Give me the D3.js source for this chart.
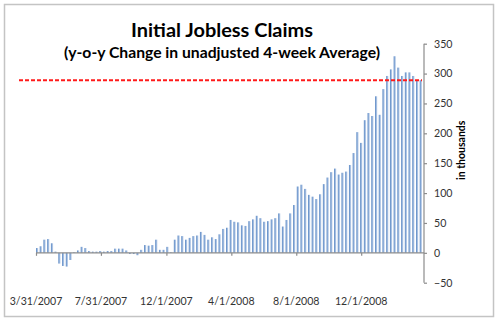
<!DOCTYPE html>
<html><head><meta charset="utf-8">
<script src="https://cdn.jsdelivr.net/npm/d3@7/dist/d3.min.js"></script>
<style>html,body{margin:0;padding:0;background:#fff;}svg{display:block;}</style>
</head><body>
<script>
const titleText = "Initial Jobless Claims";
const subtitleText = "(y-o-y Change in unadjusted 4-week Average)";
const axisTitle = "in thousands";
const firstWeek = "3/31/2007";
const claims = [8,11,22,23,16,2,-18,-22,-23,-12,1,4,10,8,3,2,2,3,2,3,3,7,7,7,4,-2,-2,-4,5,13,12,13,22,5,5,10,1,22,29,28,22,25,28,29,35,30,22,26,23,31,40,42,55,52,51,46,45,53,56,62,58,52,53,56,58,66,44,55,66,80,111,114,107,97,94,90,98,115,126,135,141,131,134,136,147,167,202,184,222,234,229,262,231,274,296,307,329,310,296,302,302,296,289,289];
const xTickLabels = ["3/31/2007","7/31/2007","12/1/2007","4/1/2008","8/1/2008","12/1/2008"];
const xDomainLabels = ["3/31/2007","3/29/2009"];
const yTicks = [-50,0,50,100,150,200,250,300,350];
const yDomain = [-50,350];
const referenceLevel = 289;

const W = 500, H = 323;
const parse = d3.timeParse("%m/%d/%Y");
const start = parse(firstWeek);
const weeks = claims.map((v,i)=>({date:d3.timeDay.offset(start,7*i), value:v}));

const svg = d3.select("body").append("svg").attr("width",W).attr("height",H);
const defs = svg.append("defs");
const grad = defs.append("linearGradient").attr("id","barGrad").attr("x1","0").attr("x2","1").attr("y1","0").attr("y2","0");
grad.append("stop").attr("offset","0").attr("stop-color","#4f80bf");
grad.append("stop").attr("offset","0.4").attr("stop-color","#86a8d6");
grad.append("stop").attr("offset","1").attr("stop-color","#cddbef");
const blur = defs.append("filter").attr("id","blur").attr("x","-5%").attr("y","-200%").attr("width","110%").attr("height","500%");
blur.append("feGaussianBlur").attr("stdDeviation","1.5");

svg.append("rect").attr("x",4.5).attr("y",4.5).attr("width",489).attr("height",312)
  .attr("fill","#fff").attr("stroke","#c4c4c4").attr("stroke-width",1.5);

const x = d3.scaleTime().domain(xDomainLabels.map(parse)).range([36,424]);
const y = d3.scaleLinear().domain(yDomain).range([282.7,43.7]);

const font = "Lato, 'Open Sans', sans-serif";

// bars
const bw = 2.2;
svg.append("g").selectAll("rect").data(weeks).join("rect")
  .attr("x",d=>x(d.date))
  .attr("width",bw)
  .attr("y",d=>Math.min(y(d.value),y(0)))
  .attr("height",d=>Math.abs(y(d.value)-y(0)))
  .attr("fill","url(#barGrad)");

// x axis
const xAxis = svg.append("g").attr("transform",`translate(0,${y(0)})`)
  .call(d3.axisBottom(x).tickValues(xTickLabels.map(parse)).tickSize(3).tickFormat(""));
xAxis.select(".domain").attr("d",`M${x.range()[0]},0H${x.range()[1]}`).attr("stroke","#8c8c8c").attr("stroke-width",1.2);
xAxis.selectAll(".tick line").attr("stroke","#8c8c8c").attr("stroke-width",1.2);

svg.append("g").selectAll("text").data(xTickLabels).join("text")
  .attr("x",d=>x(parse(d))).attr("y",304.5)
  .attr("text-anchor","middle")
  .attr("font-family",font).attr("font-size",10.6).attr("fill","#333")
  .text(d=>d);

// y axis (right)
const yAxis = svg.append("g").attr("transform",`translate(424,0)`)
  .call(d3.axisRight(y).tickValues(yTicks).tickSize(3).tickPadding(7).tickFormat(d3.format("d")));
yAxis.select(".domain").attr("d",`M0,${y.range()[0]}V${y.range()[1]}`).attr("stroke","#8c8c8c").attr("stroke-width",1.2);
yAxis.selectAll(".tick line").attr("stroke","#8c8c8c").attr("stroke-width",1.2);
yAxis.selectAll(".tick text").attr("font-family",font).attr("font-size",10.6).attr("fill","#333");

svg.append("text")
  .attr("transform",`translate(465,${(y(150)+y(200))/2 + 2}) rotate(-90)`)
  .attr("text-anchor","middle")
  .attr("font-family",font).attr("font-weight","bold").attr("font-size",10.5).attr("fill","#000")
  .text(axisTitle);

// reference line with shadow
const yr = y(referenceLevel);
svg.append("line").attr("x1",22).attr("x2",424).attr("y1",yr+4.5).attr("y2",yr+4.5)
  .attr("stroke","#8a8a8a").attr("stroke-width",3.5).attr("opacity",0.7).attr("filter","url(#blur)");
svg.append("line").attr("x1",19).attr("x2",422).attr("y1",yr).attr("y2",yr)
  .attr("stroke","#ff1a1a").attr("stroke-width",2).attr("stroke-dasharray","4,2");

// titles
svg.append("text").attr("x",222).attr("y",36.5).attr("text-anchor","middle")
  .attr("font-family",font).attr("font-weight","bold").attr("font-size",19).attr("fill","#000")
  .attr("textLength",182).attr("lengthAdjust","spacingAndGlyphs")
  .text(titleText);
svg.append("text").attr("x",222).attr("y",58).attr("text-anchor","middle")
  .attr("font-family",font).attr("font-weight","bold").attr("font-size",14.5).attr("fill","#000")
  .attr("textLength",316).attr("lengthAdjust","spacingAndGlyphs")
  .text(subtitleText);
</script>
</body></html>
